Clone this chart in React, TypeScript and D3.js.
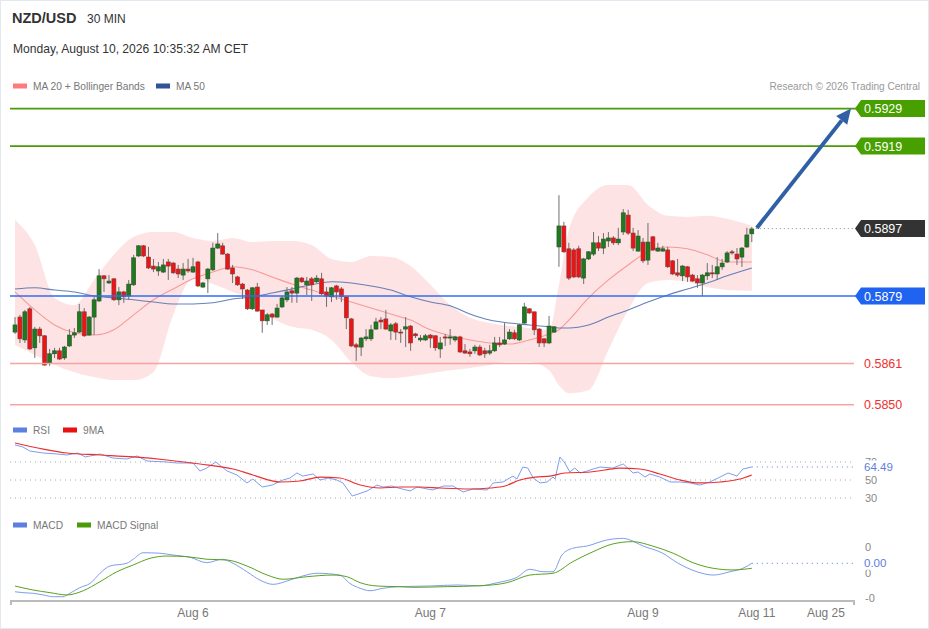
import React from "react";
import * as d3 from "d3";

// ---------- DATA ----------
const pairName = "NZD/USD";
const timeframe = "30 MIN";
const dateText = "Monday, August 10, 2026 10:35:32 AM CET";
const copyright = "Research © 2026 Trading Central";

const candleOpen = [
  0.58694, 0.58734, 0.58673, 0.58756, 0.58652, 0.58702, 0.58684, 0.58612, 0.58636, 0.58644,
  0.58625, 0.58657, 0.58686, 0.58694, 0.58748, 0.58686, 0.58734, 0.58777, 0.58844, 0.58825,
  0.58836, 0.5878, 0.58801, 0.5879, 0.5882, 0.58897, 0.58924, 0.58894, 0.5887, 0.58857,
  0.58854, 0.58881, 0.58878, 0.58862, 0.58846, 0.58862, 0.58854, 0.58881, 0.58814, 0.58836,
  0.5886, 0.58918, 0.58924, 0.58902, 0.58865, 0.58841, 0.58822, 0.58806, 0.58756, 0.58814,
  0.58753, 0.58724, 0.58742, 0.58734, 0.58761, 0.5878, 0.58804, 0.58798, 0.58838, 0.5882,
  0.58836, 0.58828, 0.58836, 0.58801, 0.58788, 0.58817, 0.58809, 0.58788, 0.58729, 0.5866,
  0.58654, 0.58676, 0.58676, 0.58702, 0.58726, 0.58729, 0.58697, 0.58716, 0.58694, 0.58702,
  0.5871, 0.58689, 0.58673, 0.58673, 0.58686, 0.58684, 0.58649, 0.58681, 0.58678, 0.58673,
  0.58681, 0.58644, 0.58641, 0.58644, 0.58654, 0.58644, 0.58638, 0.58644, 0.58665, 0.58662,
  0.58676, 0.58692, 0.58673, 0.58718, 0.58756, 0.58748, 0.58702, 0.58676, 0.58665, 0.58694,
  0.58921, 0.58977, 0.58916, 0.58913, 0.58916, 0.58838, 0.58889, 0.58902, 0.58932, 0.58918,
  0.58937, 0.58945, 0.58932, 0.58961, 0.59006, 0.58958, 0.5891, 0.58934, 0.58886, 0.58948,
  0.5891, 0.5891, 0.58913, 0.58884, 0.58852, 0.58844, 0.58868, 0.58846, 0.58836, 0.58825,
  0.58844, 0.58852, 0.58849, 0.58868, 0.58881, 0.58908, 0.58902, 0.58894, 0.58921, 0.58956,
];
const candleHigh = [
  0.58734, 0.5874, 0.58753, 0.58761, 0.58708, 0.58708, 0.58686, 0.58649, 0.58652, 0.58652,
  0.58657, 0.58702, 0.58705, 0.58769, 0.58758, 0.58737, 0.58788, 0.58862, 0.58846, 0.58846,
  0.58838, 0.58814, 0.58804, 0.58833, 0.589, 0.58926, 0.58926, 0.58921, 0.58889, 0.58881,
  0.58889, 0.58889, 0.58881, 0.58873, 0.58878, 0.58889, 0.58892, 0.58884, 0.58828, 0.58865,
  0.58932, 0.58958, 0.58932, 0.58905, 0.58873, 0.58844, 0.58825, 0.58809, 0.58814, 0.58825,
  0.58753, 0.58745, 0.58745, 0.58769, 0.5879, 0.58814, 0.58814, 0.58841, 0.58841, 0.58841,
  0.58841, 0.58846, 0.58852, 0.58814, 0.58814, 0.5882, 0.58814, 0.58788, 0.58732, 0.58665,
  0.58681, 0.58702, 0.58713, 0.58732, 0.58734, 0.58753, 0.58718, 0.58721, 0.58702, 0.58734,
  0.58713, 0.58692, 0.58686, 0.58689, 0.58689, 0.58686, 0.58681, 0.58689, 0.58702, 0.58684,
  0.58684, 0.58662, 0.58649, 0.5866, 0.5866, 0.58652, 0.5866, 0.58681, 0.58681, 0.58718,
  0.58702, 0.587, 0.58716, 0.58772, 0.58758, 0.58748, 0.58705, 0.58676, 0.58737, 0.5871,
  0.59059, 0.58988, 0.58932, 0.58918, 0.58924, 0.58892, 0.5891, 0.58961, 0.5895, 0.58958,
  0.58961, 0.5895, 0.58972, 0.59022, 0.5902, 0.58972, 0.58966, 0.58945, 0.58985, 0.5895,
  0.58932, 0.58924, 0.58921, 0.58886, 0.58889, 0.58873, 0.5887, 0.58849, 0.58846, 0.58849,
  0.58878, 0.58873, 0.58894, 0.58889, 0.5891, 0.58913, 0.58918, 0.58921, 0.58972, 0.58974,
];
const candleLow = [
  0.58689, 0.58665, 0.58665, 0.58646, 0.58625, 0.58665, 0.58604, 0.58604, 0.58625, 0.5862,
  0.5862, 0.58654, 0.58678, 0.58692, 0.58681, 0.58684, 0.58686, 0.58774, 0.58801, 0.58822,
  0.58777, 0.58766, 0.58772, 0.5878, 0.58817, 0.58894, 0.58894, 0.58862, 0.58854, 0.58844,
  0.58852, 0.58833, 0.58849, 0.58838, 0.58833, 0.58852, 0.58852, 0.58814, 0.58812, 0.58798,
  0.58857, 0.58916, 0.589, 0.5886, 0.58825, 0.58817, 0.58782, 0.58753, 0.58753, 0.58748,
  0.58692, 0.58713, 0.58713, 0.58732, 0.58758, 0.58774, 0.58772, 0.58772, 0.58825, 0.58793,
  0.58777, 0.58825, 0.58793, 0.58761, 0.58774, 0.5878, 0.58774, 0.58702, 0.58654, 0.58617,
  0.5863, 0.5867, 0.5867, 0.587, 0.58702, 0.587, 0.58673, 0.58673, 0.58665, 0.58654,
  0.58644, 0.58678, 0.58668, 0.5867, 0.58652, 0.58644, 0.58625, 0.58657, 0.5866, 0.58668,
  0.58638, 0.58636, 0.58628, 0.58636, 0.5863, 0.58625, 0.58633, 0.58641, 0.58654, 0.5866,
  0.58673, 0.58673, 0.5867, 0.58716, 0.58742, 0.58686, 0.58654, 0.58654, 0.58662, 0.58692,
  0.58868, 0.58905, 0.58833, 0.58838, 0.58838, 0.58822, 0.58886, 0.58897, 0.5891, 0.58902,
  0.58921, 0.58926, 0.58926, 0.58953, 0.58953, 0.5891, 0.58908, 0.58878, 0.58873, 0.5891,
  0.58908, 0.58908, 0.58865, 0.58846, 0.58841, 0.5883, 0.58828, 0.58828, 0.58812, 0.5879,
  0.58833, 0.58838, 0.58833, 0.5886, 0.58878, 0.589, 0.58873, 0.58868, 0.58918, 0.58934,
];
const candleClose = [
  0.58713, 0.58676, 0.58748, 0.58649, 0.58702, 0.58684, 0.58606, 0.58636, 0.58644, 0.58622,
  0.58654, 0.58686, 0.58692, 0.58748, 0.58684, 0.58734, 0.5878, 0.58844, 0.58836, 0.5883,
  0.5878, 0.58801, 0.58788, 0.58822, 0.58892, 0.58924, 0.58897, 0.58865, 0.58862, 0.58868,
  0.58873, 0.5887, 0.58852, 0.58849, 0.58862, 0.58857, 0.58868, 0.58817, 0.58825, 0.58862,
  0.58918, 0.58929, 0.58902, 0.58862, 0.58849, 0.5882, 0.58809, 0.58756, 0.58812, 0.5875,
  0.58724, 0.5874, 0.58734, 0.58758, 0.58785, 0.58801, 0.58798, 0.58838, 0.58828, 0.5883,
  0.5882, 0.58838, 0.58796, 0.5879, 0.58812, 0.58801, 0.58788, 0.58732, 0.58657, 0.58654,
  0.58678, 0.58681, 0.587, 0.58721, 0.58721, 0.58702, 0.58713, 0.58694, 0.58692, 0.58708,
  0.58665, 0.58684, 0.58678, 0.58684, 0.58678, 0.58652, 0.58665, 0.58678, 0.58681, 0.58681,
  0.58641, 0.58638, 0.58636, 0.58654, 0.58633, 0.58636, 0.58644, 0.58665, 0.5866, 0.58673,
  0.58694, 0.58676, 0.58713, 0.58761, 0.58745, 0.587, 0.58665, 0.58665, 0.5871, 0.58708,
  0.58977, 0.58908, 0.58838, 0.58841, 0.58841, 0.58889, 0.58908, 0.58932, 0.58918, 0.58942,
  0.58945, 0.58932, 0.58942, 0.59012, 0.58958, 0.58918, 0.5895, 0.58884, 0.58934, 0.58913,
  0.58918, 0.58916, 0.58868, 0.58849, 0.58846, 0.5887, 0.58841, 0.5883, 0.58825, 0.58846,
  0.58852, 0.58849, 0.58868, 0.58878, 0.58905, 0.58905, 0.58889, 0.58918, 0.58953, 0.58969,
];

// indicator samples (bar positions)
const bandIdx = [1, 5, 9, 13, 17, 21, 25, 29, 33, 37, 41, 45, 49, 53, 57, 61, 65, 69, 73, 77, 81, 85, 89, 93, 97, 101, 105, 109, 111, 113, 117, 121, 125, 129, 133, 137, 141, 145, 150];
const bandUpper = [0.58993, 0.58926, 0.58785, 0.58766, 0.58833, 0.589, 0.58948, 0.58961, 0.58961, 0.58945, 0.58937, 0.58945, 0.58934, 0.58937, 0.58937, 0.58926, 0.58889, 0.58881, 0.58897, 0.58894, 0.5887, 0.5882, 0.58766, 0.58732, 0.58718, 0.5871, 0.58705, 0.587, 0.5882, 0.58966, 0.59054, 0.59086, 0.59086, 0.59033, 0.59004, 0.59001, 0.59004, 0.58996, 0.58977];
const bandLower = [0.5866, 0.58633, 0.58606, 0.58587, 0.58574, 0.58566, 0.58566, 0.58587, 0.5874, 0.58836, 0.58822, 0.58801, 0.5878, 0.58732, 0.58708, 0.587, 0.58673, 0.58614, 0.58576, 0.58571, 0.58576, 0.58584, 0.58592, 0.58598, 0.58606, 0.58614, 0.58614, 0.58592, 0.58552, 0.58531, 0.58539, 0.58646, 0.58753, 0.58825, 0.58833, 0.58828, 0.58814, 0.58806, 0.58804];
const ma20 = [0.58801, 0.58753, 0.58713, 0.58692, 0.58686, 0.587, 0.5874, 0.5878, 0.58809, 0.58836, 0.58854, 0.58868, 0.5886, 0.58841, 0.58822, 0.58806, 0.5879, 0.58774, 0.58758, 0.58742, 0.58726, 0.587, 0.58684, 0.58673, 0.58665, 0.58662, 0.58673, 0.58689, 0.587, 0.58726, 0.58785, 0.58833, 0.58873, 0.58908, 0.58921, 0.58916, 0.589, 0.58881, 0.58881];
const ma50 = [0.58809, 0.58812, 0.58806, 0.58801, 0.5879, 0.58785, 0.5878, 0.58774, 0.58769, 0.58769, 0.58772, 0.58782, 0.58788, 0.58798, 0.58809, 0.5882, 0.58828, 0.58825, 0.58817, 0.58806, 0.58788, 0.58774, 0.58764, 0.58742, 0.58726, 0.58718, 0.58713, 0.58708, 0.58705, 0.58705, 0.58713, 0.58734, 0.58753, 0.58774, 0.58793, 0.58809, 0.58825, 0.58844, 0.58865];

const rsiIdx = [1, 2.6, 4, 6.7, 9.5, 11.5, 13.7, 15.2, 18.2, 20.8, 23.6, 25.7, 27.7, 31.7, 33.8, 37, 38.4, 39.8, 41.6, 43.9, 45.9, 47.9, 49.1, 51, 53, 55.2, 56.6, 58, 59.2, 61.3, 62.7, 64.3, 66.1, 67.3, 69.2, 70.4, 72.2, 74.2, 75.4, 77.2, 78.5, 80.9, 82.3, 85.5, 87.6, 89.6, 91.6, 93.6, 96.5, 97.7, 99.7, 101.7, 102.5, 103.7, 104.7, 105.8, 107.2, 108.6, 109.8, 110.2, 111.2, 112.2, 113.2, 114.2, 115.3, 116.7, 117.9, 119.3, 121.9, 124, 126, 127, 128.4, 129.4, 131.4, 133.5, 135.5, 137.5, 139.5, 141.5, 143.6, 145.2, 147, 148.2, 150];
const rsiValue = [88.9, 86.7, 82.2, 80, 78.9, 77.8, 80, 75.6, 78.9, 74.4, 73.3, 76.7, 71.1, 70, 68.9, 68.9, 60, 63.3, 70, 60, 55.6, 46.7, 51.1, 42.2, 44.4, 50, 52.2, 57.8, 54.4, 56.7, 50, 52.2, 50, 46.7, 32.2, 34.4, 37.8, 44.4, 42.2, 43.3, 41.1, 37.8, 42.2, 38.9, 43.3, 43.3, 36.7, 40, 38.9, 46.7, 47.8, 54.4, 51.1, 64.4, 63.3, 52.2, 46.7, 47.8, 53.3, 51.1, 75.6, 68.9, 58.9, 63.3, 57.8, 60, 62.2, 64.4, 63.3, 67.8, 57.8, 58.9, 53.3, 56.7, 53.3, 47.8, 47.8, 46.7, 44.4, 47.8, 53.3, 57.8, 54.4, 62.2, 64.49];
const rsiMaIdx = [1, 6.7, 11.5, 18.2, 24.9, 31.7, 38.4, 45.1, 49.1, 54.6, 58.6, 62.7, 66.7, 70.8, 74.8, 78.9, 82.9, 86.9, 93, 97.1, 100.1, 103.1, 106.2, 109.2, 112.2, 117.3, 120.3, 123.3, 127.4, 131.4, 135.5, 139.5, 143.6, 147.6, 150];
const rsiMaValue = [91.1, 84.4, 80, 77.8, 75.6, 72.2, 67.8, 62.2, 55.6, 47.8, 48.9, 53.3, 52.2, 44.4, 41.1, 42.2, 42.2, 41.1, 40, 41.1, 43.3, 50, 53.3, 54.4, 57.8, 58.9, 61.1, 63.3, 62.2, 56.7, 50, 46.7, 47.8, 51.1, 55.6];
const rsiTicks = [70, 50, 30];

const macdIdx = [1, 2.6, 4.6, 6.7, 8.7, 10.7, 12.1, 14.1, 16.2, 18.2, 20.2, 23.6, 24.9, 26.9, 30.3, 33, 36.4, 39.8, 42.9, 45.1, 47.9, 50.5, 53.2, 56.6, 59.2, 62.1, 66.7, 68.7, 70.8, 72.8, 75.4, 78.5, 84.9, 90.4, 95, 98.5, 102.5, 105.1, 107.8, 109.8, 111.6, 113.8, 116.7, 120.7, 124, 125, 128, 132, 134.9, 138.9, 142.2, 145.6, 148.2, 150];
const macdValue = [-0.51e-4, -0.58e-4, -0.63e-4, -0.76e-4, -0.9e-4, -0.9e-4, -0.63e-4, -0.19e-4, 0.15e-4, 0.94e-4, 1.51e-4, 1.72e-4, 2.04e-4, 2.55e-4, 2.51e-4, 2.37e-4, 2.19e-4, 1.77e-4, 2.04e-4, 1.72e-4, 1.06e-4, 0.41e-4, 0.07e-4, 0.41e-4, 0.73e-4, 0.94e-4, 0.8e-4, 0.15e-4, -0.24e-4, -0.43e-4, -0.24e-4, -0.11e-4, -0.06e-4, 0.02e-4, -0.04e-4, 0.2e-4, 0.62e-4, 1.25e-4, 1.06e-4, 1.06e-4, 2.37e-4, 2.9e-4, 3.08e-4, 3.55e-4, 3.68e-4, 3.6e-4, 3.08e-4, 2.51e-4, 1.77e-4, 1.06e-4, 0.8e-4, 1.06e-4, 1.33e-4, 1.72e-4];
const signalIdx = [1, 4.6, 8.1, 11.5, 14.8, 18.2, 21.6, 24.9, 28.3, 31.7, 35.8, 39.8, 43.9, 47.9, 52, 55.2, 60, 65.3, 68.1, 70.8, 74.2, 78.5, 81.5, 88.4, 95, 100.5, 105.1, 109.8, 113.8, 117.9, 121.9, 125.9, 129.9, 134.1, 138.1, 142.2, 146.2, 150];
const signalValue = [-0.06e-4, -0.37e-4, -0.58e-4, -0.76e-4, -0.43e-4, 0.28e-4, 1.06e-4, 1.59e-4, 2.11e-4, 2.29e-4, 2.24e-4, 2.04e-4, 1.98e-4, 1.51e-4, 0.8e-4, 0.47e-4, 0.67e-4, 0.8e-4, 0.67e-4, 0.2e-4, -0.06e-4, -0.11e-4, -0.16e-4, -0.11e-4, -0.04e-4, 0.2e-4, 0.8e-4, 0.94e-4, 1.85e-4, 2.63e-4, 3.24e-4, 3.42e-4, 3.08e-4, 2.51e-4, 1.77e-4, 1.33e-4, 1.2e-4, 1.33e-4];
const macdTicks = [0.0003, 0.0001, -0.0001];

const levelsGreen = [0.5929, 0.5919];
const levelBlue = 0.5879;
const levelsRed = [0.5861, 0.585];
const lastPrice = 0.5897;
const targetPrice = 0.5929;

const dateTickIdx = [37, 85, 128, 151, 165];
const dateTickLabels = ["Aug 6", "Aug 7", "Aug 9", "Aug 11", "Aug 25"];

// ---------- LAYOUT ----------
const W = 929;
const H = 629;
const plotLeft = 10;
const plotRight = 854;
const FONT = "'Liberation Sans', Arial, sans-serif";

export default function App() {
  const n = candleClose.length;
  const x = d3.scaleLinear().domain([1, 150]).range([15, 751.8]);
  const y = d3.scaleLinear().domain([0.585, 0.5929]).range([404.8, 108.6]);
  const yR = d3.scaleLinear().domain([30, 70]).range([498, 462]);
  const yM = d3.scaleLinear().domain([-0.0001, 0.0003]).range([598, 547]);

  const bandArea = d3
    .area<number>()
    .x((_, i) => x(bandIdx[i]))
    .y0((_, i) => y(bandLower[i]))
    .y1((_, i) => y(bandUpper[i]))
    .curve(d3.curveMonotoneX);
  const lineOf = (idx: number[], vals: number[], sc: (v: number) => number, curve = d3.curveMonotoneX) =>
    d3
      .line<number>()
      .x((_, i) => x(idx[i]))
      .y((v) => sc(v))
      .curve(curve)(vals) as string;

  const bw = 4;
  const candles = d3.range(n).map((i) => {
    const cx = x(i + 1);
    const o = candleOpen[i];
    const c = candleClose[i];
    const up = c >= o;
    const top = y(Math.max(o, c));
    const bot = y(Math.min(o, c));
    return (
      <g key={i}>
        <line x1={cx} x2={cx} y1={y(candleHigh[i])} y2={y(candleLow[i])} stroke="#6f6f6f" strokeWidth={1} />
        <rect
          x={cx - bw / 2}
          y={top}
          width={bw}
          height={Math.max(1, bot - top)}
          fill={up ? "#1f7a1f" : "#ec1414"}
          stroke={up ? "#2a4d2a" : "#7a3a3a"}
          strokeWidth={0.6}
        />
      </g>
    );
  });

  const tag = (yy: number, fill: string, text: string, key: string) => {
    const x0 = 855;
    const x1 = 925;
    const h = 8.5;
    return (
      <g key={key}>
        <path d={`M${x0},${yy} L${x0 + 6},${yy - h} L${x1},${yy - h} L${x1},${yy + h} L${x0 + 6},${yy + h} Z`} fill={fill} />
        <text x={864} y={yy + 4.5} fill="#fff" fontSize={12.5} fontFamily={FONT}>
          {text}
        </text>
      </g>
    );
  };

  const lastX = x(150);
  const lastY = y(candleClose[n - 1]);
  const arrowStart = [lastX + 5, lastY - 1];
  const arrowEnd = [851, y(targetPrice)];
  const ang = Math.atan2(arrowEnd[1] - arrowStart[1], arrowEnd[0] - arrowStart[0]);
  const headLen = 15;
  const headW = 7;
  const baseX = arrowEnd[0] - headLen * Math.cos(ang);
  const baseY = arrowEnd[1] - headLen * Math.sin(ang);
  const px = -Math.sin(ang);
  const py = Math.cos(ang);

  const legend = (lx: number, ly: number, color: string, text: string, key: string) => (
    <g key={key}>
      <rect x={lx} y={ly - 2.5} width={14} height={5} fill={color} />
      <text x={lx + 20} y={ly + 3.5} fontSize={10.2} fill="#777" fontFamily={FONT}>
        {text}
      </text>
    </g>
  );

  const rsiLast = rsiValue[rsiValue.length - 1];
  const macdLast = macdValue[macdValue.length - 1];

  return (
    <div style={{ position: "absolute", left: 0, top: 0 }}>
      <svg width={W} height={H} style={{ display: "block", background: "#fff" }}>
        <rect x={0.5} y={0.5} width={W - 1} height={H - 1} fill="#fff" stroke="#e2e8ef" />

        {/* header */}
        <text x={12} y={23} fontSize={14.5} fontWeight="bold" fill="#333" fontFamily={FONT}>
          {pairName}
        </text>
        <text x={87} y={23} fontSize={12} fill="#333" fontFamily={FONT}>
          {timeframe}
        </text>
        <text x={13} y={53} fontSize={12.1} fill="#333" fontFamily={FONT}>
          {dateText}
        </text>
        {legend(13, 86, "#ff7b7b", "MA 20 + Bollinger Bands", "l1")}
        {legend(156, 86, "#2f5597", "MA 50", "l2")}
        <text x={920} y={89.5} textAnchor="end" fontSize={10.1} fill="#999" fontFamily={FONT}>
          {copyright}
        </text>

        {/* bollinger band */}
        <path d={bandArea(bandUpper) as string} fill="#fde3e3" />
        <path d={lineOf(bandIdx, ma20, y)} fill="none" stroke="#f79a9a" strokeWidth={1.1} />
        <path d={lineOf(bandIdx, ma50, y)} fill="none" stroke="#5273b3" strokeWidth={1.1} opacity={0.9} />

        {candles}

        {/* levels */}
        {levelsGreen.map((v) => (
          <line key={"g" + v} x1={plotLeft} x2={856} y1={y(v)} y2={y(v)} stroke="#4a9a0a" strokeWidth={1.8} />
        ))}
        <line x1={plotLeft} x2={856} y1={y(levelBlue)} y2={y(levelBlue)} stroke="#2f6df2" strokeWidth={1.5} />
        {levelsRed.map((v) => (
          <line key={"r" + v} x1={plotLeft} x2={854} y1={y(v)} y2={y(v)} stroke="#f7a3a3" strokeWidth={1.5} />
        ))}
        <line x1={lastX + 4} x2={854} y1={y(lastPrice)} y2={y(lastPrice)} stroke="#888" strokeWidth={1} strokeDasharray="1 3" />

        {levelsGreen.map((v) => tag(y(v), "#48a000", v.toFixed(4), "tg" + v))}
        {tag(y(lastPrice), "#333333", lastPrice.toFixed(4), "tl")}
        {tag(y(levelBlue), "#1f63f0", levelBlue.toFixed(4), "tb")}
        {levelsRed.map((v) => (
          <text key={"tr" + v} x={864} y={y(v) + 4.5} fontSize={12.5} fill="#f03030" fontFamily={FONT}>
            {v.toFixed(4)}
          </text>
        ))}

        {/* arrow */}
        <line x1={arrowStart[0]} y1={arrowStart[1]} x2={baseX} y2={baseY} stroke="#2f5fa5" strokeWidth={4} />
        <path
          d={`M${arrowEnd[0]},${arrowEnd[1]} L${baseX + px * headW},${baseY + py * headW} L${baseX - px * headW},${baseY - py * headW} Z`}
          fill="#2f5fa5"
        />

        {/* RSI panel */}
        {legend(13, 430, "#5b80e0", "RSI", "l3")}
        {legend(63, 430, "#e81010", "9MA", "l4")}
        {rsiTicks.map((t) => (
          <g key={"rt" + t}>
            <line x1={plotLeft} x2={plotRight} y1={yR(t)} y2={yR(t)} stroke="#aaa" strokeWidth={1} strokeDasharray="1 4" />
            <text x={865} y={yR(t) + 4} fontSize={11} fill="#888" fontFamily={FONT}>
              {t}
            </text>
          </g>
        ))}
        <path d={lineOf(rsiIdx, rsiValue, yR, d3.curveLinear)} fill="none" stroke="#7e9ded" strokeWidth={1} />
        <path d={lineOf(rsiMaIdx, rsiMaValue, yR)} fill="none" stroke="#ec3030" strokeWidth={1.2} />
        <line x1={lastX} x2={plotRight} y1={yR(rsiLast)} y2={yR(rsiLast)} stroke="#5b7fe0" strokeWidth={1} strokeDasharray="1 4" />
        <rect x={862} y={yR(rsiLast) - 6.5} width={34} height={13} fill="#fff" />
        <text x={864} y={yR(rsiLast) + 4} fontSize={11.5} fill="#5b7fe0" fontFamily={FONT}>
          {rsiLast.toFixed(2)}
        </text>

        {/* MACD panel */}
        {legend(13, 525, "#5b80e0", "MACD", "l5")}
        {legend(77, 525, "#4a9a0a", "MACD Signal", "l6")}
        {macdTicks.map((t) => (
          <text key={"mt" + t} x={865} y={yM(t) + 4} fontSize={11} fill="#888" fontFamily={FONT}>
            {t.toFixed(0)}
          </text>
        ))}
        <path d={lineOf(macdIdx, macdValue, yM)} fill="none" stroke="#7e9ded" strokeWidth={1} />
        <path d={lineOf(signalIdx, signalValue, yM)} fill="none" stroke="#5aa020" strokeWidth={1} />
        <line x1={lastX} x2={plotRight} y1={yM(macdLast)} y2={yM(macdLast)} stroke="#5b7fe0" strokeWidth={1} strokeDasharray="1 4" />
        <rect x={862} y={yM(macdLast) - 6.5} width={30} height={13} fill="#fff" />
        <text x={864} y={yM(macdLast) + 4} fontSize={11.5} fill="#5b7fe0" fontFamily={FONT}>
          {macdLast.toFixed(2)}
        </text>

        {/* x axis */}
        <line x1={plotLeft} x2={plotRight} y1={601} y2={601} stroke="#bbb" strokeWidth={2} />
        <line x1={plotLeft + 1} x2={plotLeft + 1} y1={600} y2={605} stroke="#bbb" strokeWidth={2} />
        <line x1={plotRight} x2={plotRight} y1={600} y2={605} stroke="#bbb" strokeWidth={2} />
        {dateTickIdx.map((d, i) => (
          <text key={"dt" + i} x={x(d)} y={617} textAnchor="middle" fontSize={12} fill="#777" fontFamily={FONT}>
            {dateTickLabels[i]}
          </text>
        ))}
      </svg>
    </div>
  );
}
